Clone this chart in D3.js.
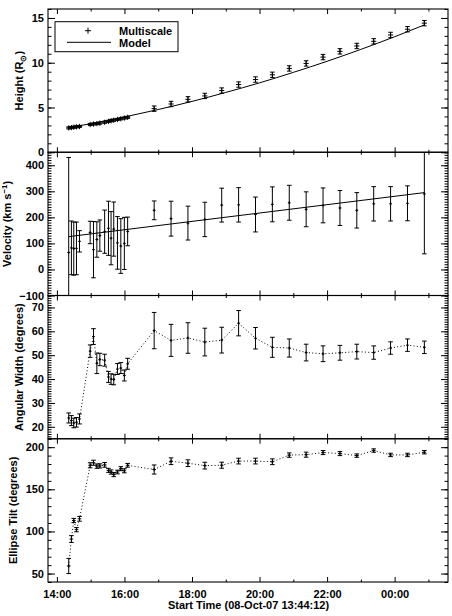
<!DOCTYPE html>
<html>
<head>
<meta charset="utf-8">
<script src="https://cdn.jsdelivr.net/npm/d3@7"></script>
<style>
body { margin: 0; background: #fff; }
text { font-family: "Liberation Sans", Arial, sans-serif; font-weight: bold; font-size: 11px; fill: #000; }
</style>
</head>
<body>
<script>
// times in hours after 08-Oct-07 00:00 (values past 24 are the next day)
var timeHours = [14.35, 14.43, 14.50, 14.58, 14.67, 14.985, 15.083, 15.183, 15.272, 15.414,
  15.527, 15.604, 15.683, 15.793, 15.893, 15.997, 16.095,
  16.88, 17.38, 17.88, 18.38, 18.88, 19.38, 19.88, 20.38, 20.88, 21.38, 21.88, 22.38, 22.88,
  23.38, 23.88, 24.38, 24.88];

var heightVals = [2.72, 2.76, 2.80, 2.84, 2.88, 3.10, 3.15, 3.20, 3.25, 3.35,
  3.45, 3.52, 3.58, 3.66, 3.74, 3.82, 3.90,
  4.87, 5.39, 5.91, 6.29, 6.89, 7.56, 8.12, 8.65, 9.36, 9.92, 10.63, 11.27, 11.87,
  12.39, 13.10, 13.74, 14.42];
var heightErr = [0.12, 0.12, 0.12, 0.12, 0.12, 0.12, 0.12, 0.12, 0.12, 0.12,
  0.12, 0.12, 0.12, 0.12, 0.12, 0.12, 0.12,
  0.3, 0.3, 0.3, 0.3, 0.3, 0.3, 0.3, 0.3, 0.3, 0.3, 0.3, 0.3, 0.3, 0.3, 0.3, 0.3, 0.3];

var velocityVals = [65, 83, 80, 81, 108, 142, 76, 115, 130, 145,
  158, 120, 155, 102, 90, 100, 146,
  227, 195, 178, 192, 247, 248, 211, 250, 256, 231, 246, 236, 227, 252, 252, 254, 290];
var velocityErr = [365, 103, 102, 101, 41, 43, 108, 68, 60, 83,
  104, 102, 104, 101, 105, 100, 55,
  36, 67, 65, 66, 65, 66, 67, 67, 67, 67, 67, 67, 68, 66, 66, 67, 230];

var widthVals = [23.7, 22.6, 21.6, 21.9, 23.3, 51.7, 57.8, 46.6, 48.2, 47.9,
  40.9, 40.0, 39.8, 44.2, 44.6, 41.5, 46.4,
  60.3, 56.2, 57.2, 55.5, 56.3, 63.4, 57.1, 53.3, 53.0, 51.1, 50.6, 51.0, 51.5, 51.1, 53.0, 54.2, 53.3];
var widthErr = [2.1, 2.1, 2.0, 2.0, 2.1, 2.6, 3.3, 4.3, 2.6, 2.5,
  2.3, 2.2, 2.2, 2.3, 2.3, 2.3, 2.3,
  7.6, 6.7, 6.4, 5.8, 5.4, 5.3, 4.5, 4.2, 3.8, 3.5, 3.3, 3.1, 3.1, 2.8, 2.6, 2.6, 2.6];

var tiltVals = [59.0, 91.0, 113.0, 102.1, 115.0, 178.5, 181.5, 177.5, 177.8, 179.0,
  172.5, 170.5, 167.5, 170.5, 174.5, 172.0, 178.5,
  173.5, 183.3, 181.0, 178.1, 178.6, 183.5, 183.5, 182.7, 190.6, 191.1, 193.6, 192.4, 190.0,
  196.0, 190.8, 190.8, 194.0];
var tiltErr = [9, 4, 2.5, 2.5, 2.8, 3, 3, 2.6, 2.5, 2.8,
  2.4, 2.5, 2.5, 2.2, 2.4, 2.4, 2.2,
  5.4, 4, 4, 4, 3.6, 3.4, 3.4, 3.4, 2.6, 3.0, 2.4, 2.4, 2.0, 2.0, 2.0, 2.0, 2.0];

var modelTime = [14.35, 15, 16, 17, 18, 19, 20, 21, 22, 23, 24, 24.88];
var modelHeight = [2.75, 3.19, 3.94, 4.77, 5.68, 6.68, 7.75, 8.92, 10.16, 11.49, 12.9, 14.22];
var modelVelTime = [14.35, 24.88];
var modelVel = [126, 295];

var xTicks = [14, 16, 18, 20, 22, 24];
var xMinor = [15, 17, 19, 21, 23, 25];
var xTickLabels = ["14:00", "16:00", "18:00", "20:00", "22:00", "00:00"];
var xTitle = "Start Time (08-Oct-07 13:44:12)";
var legendLabels = ["Multiscale", "Model"];

var heightTicks = [0, 5, 10, 15];
var velocityTicks = [-100, 0, 100, 200, 300, 400];
var widthTicks = [20, 30, 40, 50, 60, 70];
var tiltTicks = [50, 100, 150, 200];

var width = 452, height = 616;
var plotLeft = 48, plotRight = 448, plotTop = 9, panelH = 143.25;

var svg = d3.select("body").append("svg")
    .attr("width", width)
    .attr("height", height);

var x = d3.scaleLinear().domain([13.7367, 25.58]).range([plotLeft, plotRight]);

var panels = [
  {vals: heightVals, errs: heightErr, domain: [0, 16], ticks: heightTicks, minor: 1,
   title: [{t: "Height (R"}, {t: "\u2299", sub: true}, {t: ")"}], titleX: 23, dotted: false, plus: 2.6},
  {vals: velocityVals, errs: velocityErr, domain: [-100, 450], ticks: velocityTicks, minor: 10,
   title: [{t: "Velocity (km s"}, {t: "\u22121", sup: true}, {t: ")"}], titleX: 10.5, dotted: false, plus: 1.4},
  {vals: widthVals, errs: widthErr, domain: [15, 75], ticks: widthTicks, minor: 1,
   title: [{t: "Angular Width (degrees)"}], titleX: 23, dotted: true, plus: 1.4},
  {vals: tiltVals, errs: tiltErr, domain: [40, 210], ticks: tiltTicks, minor: 10,
   title: [{t: "Ellipse Tilt (degrees)"}], titleX: 16.5, dotted: true, plus: 1.8}
];

panels.forEach(function(p, i) {
  var y0 = plotTop + i * panelH, y1 = y0 + panelH;
  var y = d3.scaleLinear().domain(p.domain).range([y1, y0]);
  var last = i === panels.length - 1;

  svg.append("clipPath").attr("id", "clip" + i)
    .append("rect").attr("x", plotLeft).attr("y", y0).attr("width", plotRight - plotLeft).attr("height", panelH);

  var minorVals = d3.range(p.domain[0], p.domain[1] + 1e-6, p.minor);

  var axes = svg.append("g");
  axes.append("g").attr("transform", "translate(" + plotLeft + ",0)")
      .call(d3.axisLeft(y).tickValues(minorVals).tickSize(-3.5).tickFormat(""));
  axes.append("g").attr("transform", "translate(" + plotRight + ",0)")
      .call(d3.axisRight(y).tickValues(minorVals).tickSize(-3.5).tickFormat(""));
  axes.append("g").attr("transform", "translate(" + plotLeft + ",0)")
      .call(d3.axisLeft(y).tickValues(p.ticks).tickSize(-7).tickPadding(4).tickFormat(d3.format("d")));
  axes.append("g").attr("transform", "translate(" + plotRight + ",0)")
      .call(d3.axisRight(y).tickValues(p.ticks).tickSize(-7).tickFormat(""));
  axes.append("g").attr("transform", "translate(0," + y0 + ")")
      .call(d3.axisTop(x).tickValues(xTicks).tickSize(-5).tickFormat(""));
  axes.append("g").attr("transform", "translate(0," + y0 + ")")
      .call(d3.axisTop(x).tickValues(xMinor).tickSize(-2.5).tickFormat(""));
  axes.append("g").attr("transform", "translate(0," + y1 + ")")
      .call(d3.axisBottom(x).tickValues(xMinor).tickSize(-2.5).tickFormat(""));
  axes.append("g").attr("transform", "translate(0," + y1 + ")")
      .call(d3.axisBottom(x).tickValues(xTicks).tickSize(-5).tickPadding(8)
        .tickFormat(function(d, k) { return last ? xTickLabels[k] : ""; }));
  axes.selectAll(".domain").remove();
  axes.selectAll(".tick line").attr("stroke-width", 1);

  svg.append("rect")
      .attr("x", plotLeft).attr("y", y0)
      .attr("width", plotRight - plotLeft).attr("height", panelH)
      .attr("fill", "none").attr("stroke", "#000").attr("stroke-width", 1.1);

  var title = svg.append("text")
      .attr("transform", "translate(" + p.titleX + "," + (y0 + panelH / 2) + ") rotate(-90)")
      .attr("text-anchor", "middle");
  p.title.forEach(function(part, k) {
    var ts = title.append("tspan").text(part.t);
    var prev = p.title[k - 1];
    if (part.sub) ts.style("font-size", "8px").attr("dy", 3);
    if (part.sup) ts.style("font-size", "8px").attr("dy", -4);
    if (prev && prev.sub) ts.attr("dy", -3);
    if (prev && prev.sup) ts.attr("dy", 4);
  });

  var pts = timeHours.map(function(t, k) { return {t: t, v: p.vals[k], e: p.errs[k]}; });
  var plot = svg.append("g").attr("clip-path", "url(#clip" + i + ")");

  if (p.dotted) {
    plot.append("path")
        .datum(pts)
        .attr("fill", "none")
        .attr("stroke", "#000")
        .attr("stroke-width", 1)
        .attr("stroke-dasharray", "1,2.3")
        .attr("d", d3.line().x(function(d) { return x(d.t); }).y(function(d) { return y(d.v); }));
  }

  if (i === 0) {
    plot.append("path")
        .datum(modelTime.map(function(t, k) { return [t, modelHeight[k]]; }))
        .attr("fill", "none").attr("stroke", "#000").attr("stroke-width", 1)
        .attr("d", d3.line().x(function(d) { return x(d[0]); }).y(function(d) { return y(d[1]); })
          .curve(d3.curveMonotoneX));
  }
  if (i === 1) {
    plot.append("path")
        .datum(modelVelTime.map(function(t, k) { return [t, modelVel[k]]; }))
        .attr("fill", "none").attr("stroke", "#000").attr("stroke-width", 1)
        .attr("d", d3.line().x(function(d) { return x(d[0]); }).y(function(d) { return y(d[1]); }));
  }

  var cap = 2.3;
  plot.append("g")
      .attr("stroke", "#000")
      .attr("stroke-width", 1)
      .attr("fill", "none")
    .selectAll("path")
    .data(pts)
    .join("path")
      .attr("d", function(d) {
        var cx = x(d.t), lo = y(d.v - d.e), hi = y(d.v + d.e), cy = y(d.v), s = p.plus;
        return "M" + cx + "," + lo + "V" + hi +
          "M" + (cx - cap) + "," + lo + "H" + (cx + cap) +
          "M" + (cx - cap) + "," + hi + "H" + (cx + cap) +
          "M" + (cx - s) + "," + cy + "H" + (cx + s) +
          "M" + cx + "," + (cy - s) + "V" + (cy + s);
      });

  if (last) {
    svg.append("text")
        .attr("x", (plotLeft + plotRight) / 2 + 0.5)
        .attr("y", 609)
        .attr("text-anchor", "middle")
        .text(xTitle);
  }
});

var legend = svg.append("g");
legend.append("rect")
    .attr("x", 55).attr("y", 21.7).attr("width", 123).attr("height", 30)
    .attr("fill", "#fff").attr("stroke", "#000").attr("stroke-width", 1);
legend.append("path")
    .attr("stroke", "#000").attr("stroke-width", 1)
    .attr("d", "M85,30.7H91M88,27.7V33.7");
legend.append("line")
    .attr("x1", 67).attr("x2", 111).attr("y1", 42.3).attr("y2", 42.3)
    .attr("stroke", "#000").attr("stroke-width", 1);
legend.selectAll("text.lg")
    .data(legendLabels)
    .join("text")
      .attr("class", "lg")
      .attr("x", 119)
      .attr("y", function(d, k) { return 34.5 + k * 12; })
      .text(function(d) { return d; });
</script>
</body>
</html>
